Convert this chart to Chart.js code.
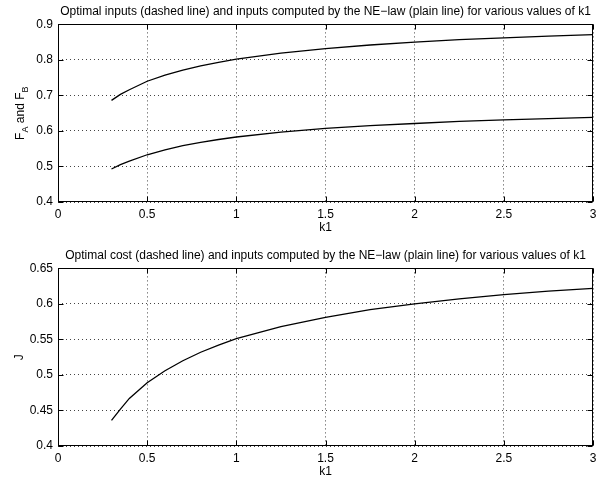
<!DOCTYPE html>
<html>
<head>
<meta charset="utf-8">
<script src="https://cdn.jsdelivr.net/npm/chart.js@4.4.1/dist/chart.umd.min.js"></script>
<style>
  html, body { margin: 0; padding: 0; background: #fff; overflow: hidden; }
  .panel { position: absolute; left: 0; width: 605px; height: 240px; }
</style>
</head>
<body>
<div class="panel" style="top:0"><canvas id="inputs" width="605" height="240"></canvas></div>
<div class="panel" style="top:244px"><canvas id="cost" width="605" height="240"></canvas></div>
<script>
// values of k1 where the curves were sampled
const k1 = [0.3, 0.35, 0.4, 0.5, 0.6, 0.7, 0.8, 0.9, 1.0, 1.25, 1.5, 1.75, 2.0, 2.25, 2.5, 2.75, 3.0];
// inputs F_A (upper) and F_B (lower)
const inputA = [0.686, 0.703, 0.716, 0.740, 0.757, 0.771, 0.783, 0.793, 0.802, 0.819, 0.832, 0.842, 0.850, 0.857, 0.862, 0.867, 0.871];
const inputB = [0.493, 0.505, 0.515, 0.533, 0.547, 0.559, 0.568, 0.576, 0.583, 0.597, 0.607, 0.615, 0.621, 0.627, 0.631, 0.635, 0.638];
// cost J
const costJ = [0.436, 0.452, 0.467, 0.489, 0.506, 0.520, 0.532, 0.542, 0.551, 0.568, 0.581, 0.592, 0.600, 0.607, 0.613, 0.618, 0.622];

// tick labels
const xTicks = [0, 0.5, 1, 1.5, 2, 2.5, 3];
const inputTicks = [0.4, 0.5, 0.6, 0.7, 0.8, 0.9];
const costTicks = [0.4, 0.45, 0.5, 0.55, 0.6, 0.65];

const topTitle = 'Optimal inputs (dashed line) and inputs computed by the NE\u2212law (plain line) for various values of k1';
const bottomTitle = 'Optimal cost (dashed line) and inputs computed by the NE\u2212law (plain line) for various values of k1';

const FONT = "'Liberation Sans', Arial, Helvetica, sans-serif";

// box round the plot area plus MATLAB style inner tick marks
const framePlugin = {
  id: 'frame',
  afterDraw(chart) {
    const { ctx, chartArea: a, scales } = chart;
    ctx.save();
    ctx.strokeStyle = '#000';
    ctx.lineWidth = 1;
    const L = Math.round(a.left) + 0.5, R = Math.round(a.right) - 0.5;
    const T = Math.round(a.top) + 0.5, B = Math.round(a.bottom) - 0.5;
    ctx.beginPath();
    scales.x.ticks.forEach((t) => {
      const px = Math.round(scales.x.getPixelForValue(t.value)) + 0.5;
      ctx.moveTo(px, B); ctx.lineTo(px, B - 5);
      ctx.moveTo(px, T); ctx.lineTo(px, T + 5);
    });
    scales.y.ticks.forEach((t) => {
      const py = Math.round(scales.y.getPixelForValue(t.value)) + 0.5;
      ctx.moveTo(L, py); ctx.lineTo(L + 5, py);
      ctx.moveTo(R, py); ctx.lineTo(R - 5, py);
    });
    ctx.stroke();
    ctx.strokeRect(L, T, R - L, B - T);
    ctx.restore();
  },
};

// rotated y label, with subscripts
const yLabelPlugin = {
  id: 'yLabel',
  afterDraw(chart, args, opts) {
    const { ctx, chartArea: a } = chart;
    const parts = opts.parts || [];
    ctx.save();
    ctx.translate(opts.x, (a.top + a.bottom) / 2);
    ctx.rotate(-Math.PI / 2);
    ctx.fillStyle = '#000';
    ctx.textBaseline = 'middle';
    ctx.textAlign = 'left';
    const fontOf = (p) => (p.sub ? `9px ${FONT}` : `12px ${FONT}`);
    let total = 0;
    parts.forEach((p) => { ctx.font = fontOf(p); total += ctx.measureText(p.text).width; });
    let x = -total / 2;
    parts.forEach((p) => {
      ctx.font = fontOf(p);
      ctx.fillText(p.text, x, p.sub ? 5 : 0);
      x += ctx.measureText(p.text).width;
    });
    ctx.restore();
  },
};

function makeChart(id, title, series, yMin, yMax, yTicks, labelParts, labelX) {
  const ctx = document.getElementById(id).getContext('2d');
  return new Chart(ctx, {
    type: 'line',
    data: {
      datasets: series.map((ys) => ({
        data: k1.map((v, i) => ({ x: v, y: ys[i] })),
        borderColor: '#000',
        borderWidth: 1.3,
        pointRadius: 0,
        tension: 0,
        fill: false,
      })),
    },
    options: {
      responsive: false,
      animation: false,
      events: [],
      layout: { padding: { left: 0, right: 12, top: 0, bottom: 0 } },
      plugins: {
        legend: { display: false },
        tooltip: { enabled: false },
        title: {
          display: true,
          fullSize: false,
          text: title,
          color: '#000',
          font: { family: FONT, size: 12, weight: 'normal' },
          padding: { top: 4, bottom: 6 },
        },
        yLabel: { parts: labelParts, x: labelX },
      },
      scales: {
        x: {
          type: 'linear',
          min: 0,
          max: 3,
          afterBuildTicks: (s) => { s.ticks = xTicks.map((v) => ({ value: v })); },
          afterFit: (s) => { s.height = 38; },
          grid: { color: '#444', lineWidth: 1, drawTicks: false },
          border: { display: false, dash: [1, 3] },
          ticks: {
            color: '#000',
            padding: 5,
            maxRotation: 0,
            font: { family: FONT, size: 12 },
            callback: (v) => String(v),
          },
          title: {
            display: true,
            text: 'k1',
            color: '#000',
            font: { family: FONT, size: 12 },
            padding: { top: 0, bottom: 5 },
          },
        },
        y: {
          type: 'linear',
          min: yMin,
          max: yMax,
          afterBuildTicks: (s) => { s.ticks = yTicks.map((v) => ({ value: v })); },
          afterFit: (s) => { s.width = 58; },
          grid: { color: '#444', lineWidth: 1, drawTicks: false },
          border: { display: false, dash: [1, 3] },
          ticks: {
            color: '#000',
            padding: 5,
            font: { family: FONT, size: 12 },
            callback: (v) => String(v),
          },
        },
      },
    },
    plugins: [framePlugin, yLabelPlugin],
  });
}

makeChart('inputs', topTitle, [inputA, inputB], 0.4, 0.9, inputTicks,
  [{ text: 'F' }, { text: 'A', sub: true }, { text: ' and F' }, { text: 'B', sub: true }], 21);
makeChart('cost', bottomTitle, [costJ], 0.4, 0.65, costTicks,
  [{ text: 'J' }], 20);
</script>
</body>
</html>
